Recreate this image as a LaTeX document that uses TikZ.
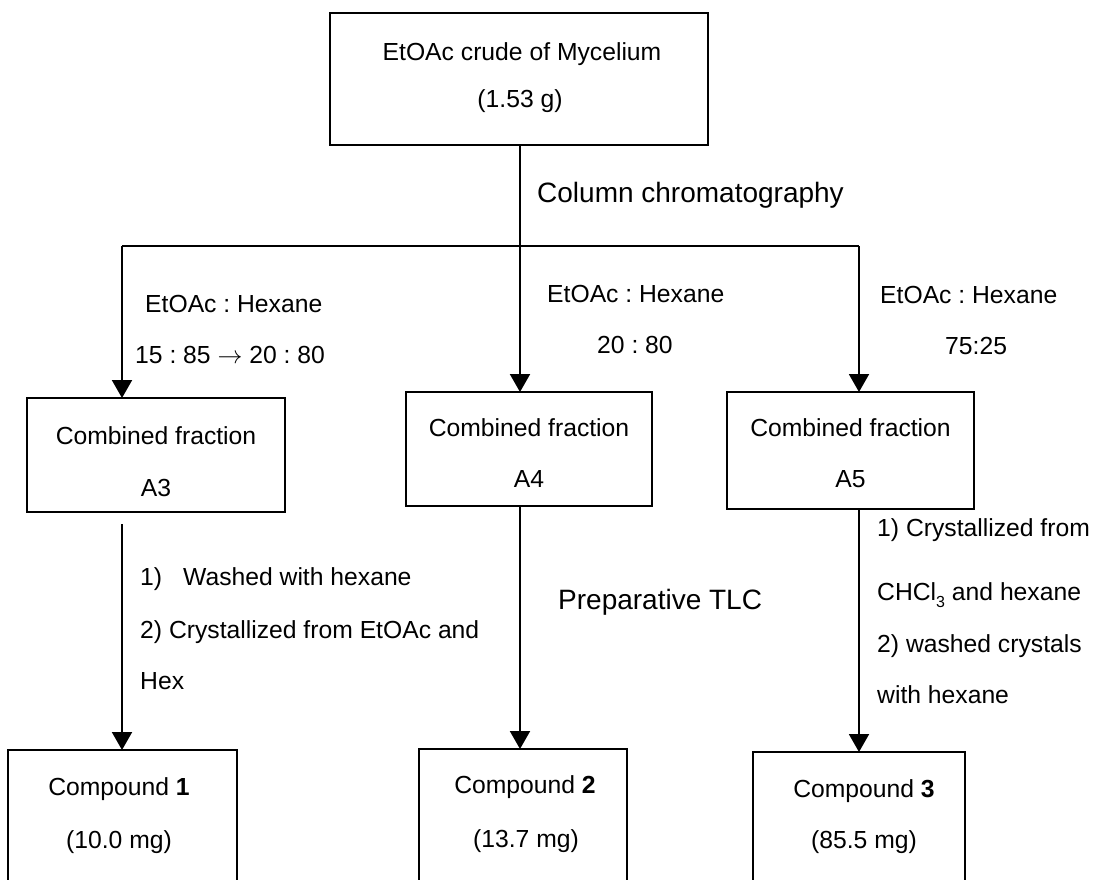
\documentclass[tikz,border=0pt]{standalone}
\usepackage{fontspec}
\setmainfont{Liberation Sans}
\usetikzlibrary{arrows.meta}
\frenchspacing
\begin{document}
\begin{tikzpicture}[x=1pt,y=-1pt,
  box/.style={draw,line width=2.4pt,inner sep=0pt,outer sep=0pt},
  conn/.style={line width=2pt},
  arr/.style={line width=2pt,-{Triangle[width=20pt,length=18pt]}},
  txt/.style={font=\fontsize{24.7}{30}\selectfont,inner sep=0pt},
  big/.style={font=\fontsize{28}{34}\selectfont,inner sep=0pt}]
\useasboundingbox (0,0) rectangle (1093,879);
\clip (0,0) rectangle (1093,879);
\fill[white] (0,0) rectangle (1093,879);

% boxes
\node[box,minimum width=378pt,minimum height=132pt] (top) at (519,79) {};
\node[box,minimum width=258pt,minimum height=114pt] (a3) at (156,455) {};
\node[box,minimum width=246pt,minimum height=114pt] (a4) at (529,449) {};
\node[box,minimum width=247pt,minimum height=117pt] (a5) at (850.5,450.5) {};
\node[box,minimum width=229pt,minimum height=200pt] (c1) at (122.5,850) {};
\node[box,minimum width=208pt,minimum height=200pt] (c2) at (523,849) {};
\node[box,minimum width=212pt,minimum height=200pt] (c3) at (859,852) {};

% box texts
\node[txt,anchor=base] (topa) at (522,60) {EtOAc crude of Mycelium};
\node[txt,anchor=base] (topb) at (520,107) {(1.53 g)};
\node[txt,anchor=base] (a3a) at (156,444) {Combined fraction};
\node[txt,anchor=base] (a3b) at (156,496) {A3};
\node[txt,anchor=base] (a4a) at (529,436) {Combined fraction};
\node[txt,anchor=base] (a4b) at (529,487) {A4};
\node[txt,anchor=base] (a5a) at (850.5,436) {Combined fraction};
\node[txt,anchor=base] (a5b) at (850.5,487) {A5};
\node[txt,anchor=base] (c1a) at (119,795) {Compound \textbf{1}};
\node[txt,anchor=base] (c1b) at (119,848) {(10.0 mg)};
\node[txt,anchor=base] (c2a) at (525,793) {Compound \textbf{2}};
\node[txt,anchor=base] (c2b) at (526,847) {(13.7 mg)};
\node[txt,anchor=base] (c3a) at (864,797) {Compound \textbf{3}};
\node[txt,anchor=base] (c3b) at (864,848) {(85.5 mg)};

% connectors
\coordinate (hub) at (520,246);
\coordinate (hl) at (122,246);
\coordinate (hr) at (859,246);
\coordinate (l1) at (122,524);
\draw[conn] (top.south -| hub) -- (hub);
\draw[conn] (hl) -- (hr);
\draw[arr] (hl) -- (hl |- a3.north);
\draw[arr] (hub) -- (hub |- a4.north);
\draw[arr] (hr) -- (hr |- a5.north);
\draw[arr] (l1) -- (l1 |- c1.north);
\draw[arr] (a4.south -| hub) -- (c2.north -| hub);
\draw[arr] (a5.south -| hr) -- (c3.north -| hr);

% connector labels
\node[big,anchor=base west] (cc) at (537,202) {Column chromatography};
\node[txt,anchor=base west] (e1) at (145,312) {EtOAc : Hexane};
\node[txt,anchor=base west] (r1) at (135,363) {15 : 85 {\fontsize{30}{30}\selectfont$\rightarrow$} 20 : 80};
\node[txt,anchor=base west] (e2) at (547,302) {EtOAc : Hexane};
\node[txt,anchor=base west] (r2) at (597,353) {20 : 80};
\node[txt,anchor=base west] (e3) at (880,303) {EtOAc : Hexane};
\node[txt,anchor=base west] (r3) at (945,354) {75:25};
\node[txt,anchor=base west] (s1) at (140,585) {1)\hspace{0.85em}Washed with hexane};
\node[txt,anchor=base west] (s2) at (140,638) {2) Crystallized from EtOAc and};
\node[txt,anchor=base west] (s3) at (140,689) {Hex};
\node[big,anchor=base west] (ptlc) at (558,609) {Preparative TLC};
\node[txt,anchor=base west] (q1) at (877,536) {1) Crystallized from};
\node[txt,anchor=base west] (q2) at (877,600) {CHCl\raisebox{-7pt}{\fontsize{16}{16}\selectfont 3} and hexane};
\node[txt,anchor=base west] (q3) at (877,652) {2) washed crystals};
\node[txt,anchor=base west] (q4) at (877,703) {with hexane};
\end{tikzpicture}
\end{document}
